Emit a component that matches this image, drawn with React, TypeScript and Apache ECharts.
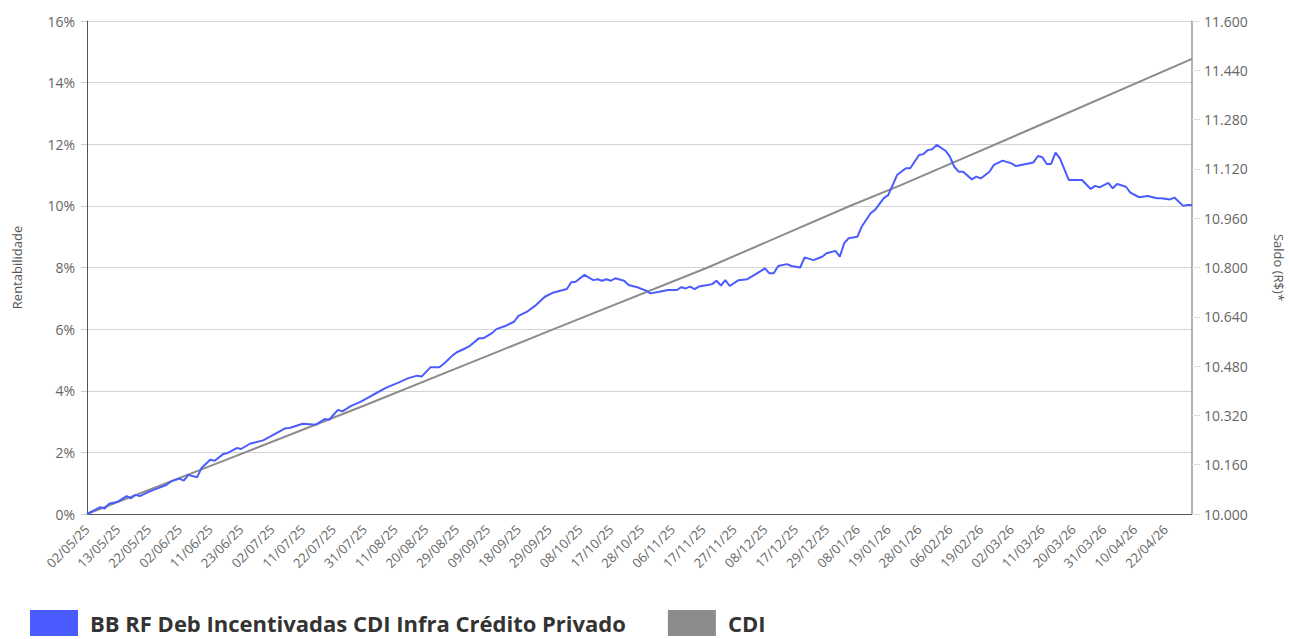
import React, { useEffect, useRef } from "react";
import * as echarts from "echarts";

// Business days (Brazil) from 02/05/25 to 30/04/26
const START_DATE = "2025-05-02";
const END_DATE = "2026-04-30";
const HOLIDAYS = ["2025-06-19", "2025-11-20", "2025-12-25", "2026-01-01", "2026-02-16", "2026-02-17", "2026-04-03", "2026-04-21"];

function buildCategories(): string[] {
  const out: string[] = [];
  const d = new Date(START_DATE + "T00:00:00Z");
  const end = new Date(END_DATE + "T00:00:00Z");
  while (d.getTime() <= end.getTime()) {
    const iso = d.toISOString().slice(0, 10);
    const wd = d.getUTCDay();
    if (wd !== 0 && wd !== 6 && HOLIDAYS.indexOf(iso) < 0) {
      out.push(iso.slice(8, 10) + "/" + iso.slice(5, 7) + "/" + iso.slice(2, 4));
    }
    d.setUTCDate(d.getUTCDate() + 1);
  }
  return out;
}
const categories = buildCategories();

const FUND_NAME = "BB RF Deb Incentivadas CDI Infra Crédito Privado";
const CDI_NAME = "CDI";

// index into categories -> cumulative return (%)
const fundIdx = [0, 3, 4, 5, 7, 9, 10, 11, 12, 14, 16, 18, 19, 21, 22, 23, 25, 26, 28, 29, 31, 32, 34, 35, 37, 40, 42, 45, 46, 49, 52, 54, 55, 57, 58, 60, 62, 65, 68, 71, 73, 75, 76, 78, 80, 81, 83, 84, 86, 87, 89, 90, 92, 93, 95, 97, 98, 100, 102, 104, 106, 109, 110, 111, 113, 115, 116, 117, 118, 119, 120, 122, 123, 125, 127, 128, 130, 132, 134, 135, 136, 137, 138, 139, 141, 142, 143, 144, 145, 146, 148, 150, 152, 154, 155, 156, 157, 159, 160, 162, 163, 165, 167, 168, 170, 171, 172, 173, 175, 176, 178, 179, 181, 182, 184, 186, 187, 189, 190, 191, 192, 193, 195, 196, 197, 198, 199, 201, 202, 203, 205, 206, 208, 210, 211, 213, 215, 216, 217, 218, 219, 220, 221, 223, 224, 226, 228, 229, 230, 232, 233, 234, 236, 237, 239, 241, 243, 244, 246, 247, 249, 250, 251];
const fundVal = [0, 0.22, 0.18, 0.33, 0.40, 0.58, 0.51, 0.62, 0.58, 0.72, 0.83, 0.94, 1.05, 1.15, 1.08, 1.27, 1.19, 1.49, 1.76, 1.73, 1.95, 1.98, 2.14, 2.11, 2.28, 2.39, 2.54, 2.78, 2.79, 2.93, 2.90, 3.08, 3.06, 3.38, 3.33, 3.51, 3.63, 3.87, 4.10, 4.28, 4.41, 4.49, 4.46, 4.76, 4.76, 4.87, 5.14, 5.25, 5.38, 5.46, 5.70, 5.70, 5.87, 6.00, 6.10, 6.24, 6.43, 6.57, 6.78, 7.05, 7.19, 7.30, 7.52, 7.54, 7.76, 7.59, 7.62, 7.57, 7.62, 7.57, 7.65, 7.57, 7.43, 7.36, 7.25, 7.16, 7.21, 7.27, 7.27, 7.36, 7.32, 7.38, 7.30, 7.38, 7.43, 7.46, 7.57, 7.41, 7.59, 7.40, 7.59, 7.62, 7.79, 7.97, 7.81, 7.81, 8.05, 8.11, 8.05, 8.00, 8.33, 8.24, 8.35, 8.46, 8.54, 8.35, 8.79, 8.95, 9.00, 9.33, 9.76, 9.87, 10.25, 10.35, 11.00, 11.22, 11.22, 11.65, 11.68, 11.81, 11.84, 11.98, 11.79, 11.60, 11.27, 11.11, 11.11, 10.86, 10.95, 10.89, 11.11, 11.33, 11.47, 11.38, 11.29, 11.35, 11.41, 11.62, 11.58, 11.36, 11.36, 11.73, 11.54, 10.84, 10.84, 10.84, 10.55, 10.65, 10.60, 10.75, 10.57, 10.71, 10.62, 10.43, 10.28, 10.32, 10.25, 10.25, 10.21, 10.27, 10.00, 10.03, 10.03];

const cdiIdx = [0, 32, 63, 106, 141, 173, 185, 214, 251];
const cdiVal = [0, 1.78, 3.52, 6.0, 8.0, 9.98, 10.68, 12.47, 14.77];

const leftTicks = { min: 0, max: 16, interval: 2 };
const saldoBase = 10000;
const rightTicks = { min: 0, max: 1600, interval: 160 };

const FONT = "'Open Sans', 'Noto Sans', sans-serif";

function fmtThousands(v: number): string {
  return Math.round(v).toString().replace(/\B(?=(\d{3})+(?!\d))/g, ".");
}

export default function App() {
  const ref = useRef<HTMLDivElement>(null);
  useEffect(() => {
    document.body.style.margin = "0";
    if (!ref.current) return;
    const chart = echarts.init(ref.current, undefined, { renderer: "svg" });
    const fundData = fundIdx.map((i, k) => [i, fundVal[k]]);
    const cdiData = cdiIdx.map((i, k) => [i, cdiVal[k]]);
    chart.setOption({
      animation: false,
      textStyle: { fontFamily: FONT },
      grid: { left: 87, right: 97, top: 21, bottom: 125, containLabel: false, outerBoundsMode: "none" },
      legend: {
        left: 30,
        top: 610,
        padding: 0,
        itemWidth: 48,
        itemHeight: 26,
        itemGap: 42,
        icon: "rect",
        textStyle: { fontSize: 22, lineHeight: 22, fontWeight: "bold", color: "#333", fontFamily: FONT, padding: [0, 0, 0, 7] },
        data: [
          { name: FUND_NAME, itemStyle: { color: "#4B5CFF" } },
          { name: CDI_NAME, itemStyle: { color: "#8C8C8C" } },
        ],
      },
      xAxis: {
        type: "category",
        data: categories,
        boundaryGap: false,
        axisLine: { lineStyle: { color: "#555", width: 1 } },
        axisTick: { show: false },
        axisLabel: { interval: 6, rotate: 45, fontSize: 13, color: "#666", margin: 13, fontFamily: FONT },
        splitLine: { show: false },
      },
      yAxis: [
        {
          type: "value",
          min: leftTicks.min,
          max: leftTicks.max,
          interval: leftTicks.interval,
          name: "Rentabilidade",
          nameLocation: "middle",
          nameGap: 64,
          nameTextStyle: { fontSize: 13, color: "#555", fontFamily: FONT },
          axisLine: { show: true, lineStyle: { color: "#555", width: 1 } },
          axisTick: { show: true, length: 6, lineStyle: { color: "#ccc" } },
          axisLabel: { formatter: "{value}%", fontSize: 14, color: "#666", margin: 12, fontFamily: FONT },
          splitLine: { show: true, lineStyle: { color: "#d4d4d4", width: 1 } },
        },
        {
          type: "value",
          position: "right",
          min: rightTicks.min,
          max: rightTicks.max,
          interval: rightTicks.interval,
          name: "Saldo (R$)*",
          nameLocation: "middle",
          nameRotate: -90,
          nameGap: 80,
          nameTextStyle: { fontSize: 13, color: "#555", fontFamily: FONT },
          axisLine: { show: true, lineStyle: { color: "#999", width: 1.5 } },
          axisTick: { show: true, length: 8, lineStyle: { color: "#ddd" } },
          axisLabel: {
            formatter: (v: number) => fmtThousands(saldoBase + v),
            fontSize: 14,
            color: "#666",
            margin: 12,
            fontFamily: FONT,
          },
          splitLine: { show: false },
        },
      ],
      series: [
        {
          name: FUND_NAME,
          type: "line",
          data: fundData,
          showSymbol: false,
          symbol: "none",
          lineStyle: { color: "#4B5CFF", width: 2 },
          itemStyle: { color: "#4B5CFF" },
          z: 3,
        },
        {
          name: CDI_NAME,
          type: "line",
          data: cdiData,
          showSymbol: false,
          symbol: "none",
          lineStyle: { color: "#8C8C8C", width: 2 },
          itemStyle: { color: "#8C8C8C" },
          z: 2,
        },
      ],
    });
    return () => chart.dispose();
  }, []);
  return <div ref={ref} style={{ position: "absolute", left: 0, top: 0, width: 1289, height: 639 }} />;
}
